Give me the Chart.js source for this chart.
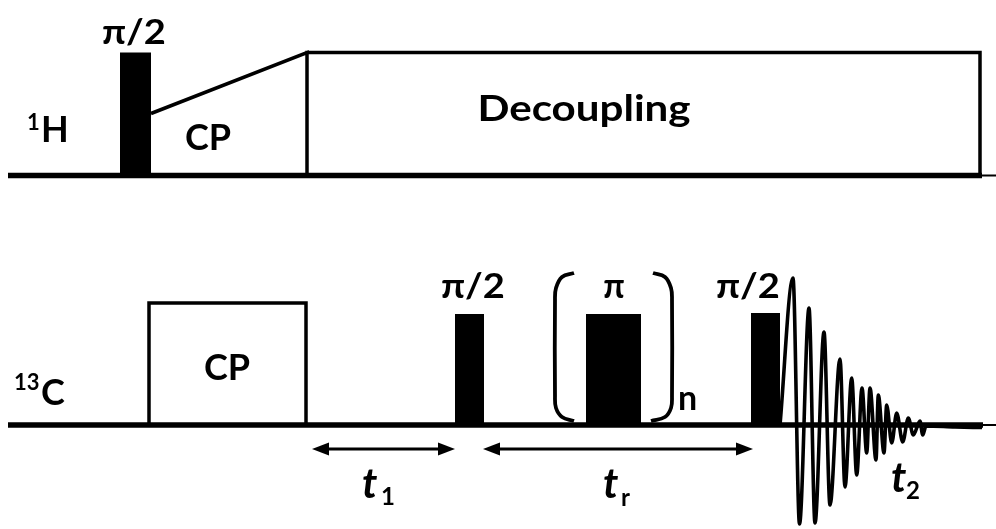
<!DOCTYPE html>
<html>
<head>
<meta charset="utf-8">
<script src="https://cdn.jsdelivr.net/npm/chart.js"></script>
<style>
  body { margin: 0; background: #fff; }
  canvas { display: block; background: #fff; }
</style>
</head>
<body>
<canvas id="seq" width="996" height="529"></canvas>
<script>
// pulse sequence, x = time (drawing units), y = level (drawing units, down is +)
const H_BASE = 175.5;
const C_BASE = 425;

// [start, end, height above baseline]
const hPulse = [120, 151, 123];
const hRamp = [[151, 62], [307, 123]];          // [x, height]
const hDecoupling = [307, 980, 123];
const cContact = [149, 306, 122];
const cPulses = [[455, 484, 111], [586, 641, 111], [751, 780, 112]];
const cPulseLabels = ['π/2', 'π', 'π/2'];
const cPulseLabelX = [473, 614, 748];

// FID (x, amplitude above baseline)
const fidX = [780, 793, 799.5, 809, 815, 824, 830, 840, 845, 851.7, 856.7, 862, 866.7, 870, 876, 878.3, 884, 886.7, 891.7, 896.7, 902.7, 908.3, 913.3, 920, 922.7, 926, 955, 982];
const fidY = [0, 147, -99, 117, -98, 93, -80, 66, -62, 47, -50, 37, -28, 37, -35, 30, -28, 20, -18, 12, -17, 7, -10, 4, -10, -1, -2, -2.5];

// rotor-sync loop bracket (x, y)
const bracketLX = [574, 562, 556, 555, 555, 556, 562, 574];
const bracketRX = [653, 665, 671, 672, 672, 671, 665, 651];
const bracketY = [273, 277, 288, 300, 396, 408, 417, 421];

// delays drawn as double arrows
const delays = [[312, 455], [483, 753]];
const DELAY_Y = 449;

const FONT = 'Lato, "Liberation Sans", sans-serif';

function line(pts, w, extra) {
  return Object.assign({
    data: pts, showLine: true, borderColor: '#000', borderWidth: w,
    pointRadius: 0, fill: false, tension: 0
  }, extra || {});
}
function block(x1, x2, base, h) {
  return {
    data: [{x: x1, y: base - h}, {x: x2, y: base - h}], showLine: true,
    borderColor: 'rgba(0,0,0,0)', borderWidth: 0, backgroundColor: '#000',
    fill: {value: base}, pointRadius: 0
  };
}
function head(tip, y, dir) {
  // two half triangles, filled to the shaft line
  const back = tip + dir * 17;
  return [
    {data: [{x: tip, y: y}, {x: back, y: y - 6.5}], showLine: true, borderWidth: 0,
     borderColor: 'rgba(0,0,0,0)', backgroundColor: '#000', fill: {value: y}, pointRadius: 0},
    {data: [{x: tip, y: y}, {x: back, y: y + 6.5}], showLine: true, borderWidth: 0,
     borderColor: 'rgba(0,0,0,0)', backgroundColor: '#000', fill: {value: y}, pointRadius: 0}
  ];
}

const datasets = [];
// baselines
datasets.push(line([{x: 8, y: H_BASE}, {x: 982, y: H_BASE}], 5.5));
datasets.push(line([{x: 982, y: H_BASE}, {x: 996, y: H_BASE}], 2));
datasets.push(line([{x: 8, y: C_BASE}, {x: 983, y: C_BASE}], 5.5));
datasets.push(line([{x: 983, y: C_BASE}, {x: 996, y: C_BASE}], 2));

// 1H channel
datasets.push(block(hPulse[0], hPulse[1], H_BASE, hPulse[2]));
datasets.push(line([
  {x: hRamp[0][0], y: H_BASE - hRamp[0][1]},
  {x: hRamp[1][0], y: H_BASE - hRamp[1][1]},
  {x: hDecoupling[0], y: H_BASE},
  {x: hDecoupling[0], y: H_BASE - hDecoupling[2]},
  {x: hDecoupling[1], y: H_BASE - hDecoupling[2]},
  {x: hDecoupling[1], y: H_BASE}
], 3.5));

// 13C channel
datasets.push(line([
  {x: cContact[0], y: C_BASE},
  {x: cContact[0], y: C_BASE - cContact[2]},
  {x: cContact[1], y: C_BASE - cContact[2]},
  {x: cContact[1], y: C_BASE}
], 3.5));
cPulses.forEach(p => datasets.push(block(p[0], p[1], C_BASE, p[2])));

datasets.push(line(bracketLX.map((x, i) => ({x: x, y: bracketY[i]})), 3.8, {tension: 0.4}));
datasets.push(line(bracketRX.map((x, i) => ({x: x, y: bracketY[i]})), 3.8, {tension: 0.4}));

datasets.push(line(fidX.map((x, i) => ({x: x, y: C_BASE - fidY[i]})), 3.6,
  {cubicInterpolationMode: 'monotone'}));

delays.forEach(d => {
  datasets.push(line([{x: d[0] + 10, y: DELAY_Y}, {x: d[1] - 10, y: DELAY_Y}], 3));
  head(d[0], DELAY_Y, 1).forEach(ds => datasets.push(ds));
  head(d[1], DELAY_Y, -1).forEach(ds => datasets.push(ds));
});

// text: [text, x, baseline y, size, italic, align, stretch]
const texts = [
  ['π/2', 134, 44, 34, false, 'center', 1.12],
  ['CP', 208, 150, 36, false, 'center', 1],
  ['Decoupling', 584, 121, 36, false, 'center', 1.17],
  ['1', 27, 130, 22, false, 'left', 1],
  ['H', 41, 142, 36, false, 'left', 1],
  ['CP', 227, 380, 36, false, 'center', 1],
  ['13', 14, 390, 22, false, 'left', 1],
  ['C', 41, 405, 36, false, 'left', 1],
  ['n', 678, 410, 34, false, 'left', 1],
  ['t', 362, 498, 42, true, 'left', 1],
  ['1', 381, 505, 24, false, 'left', 1],
  ['t', 603, 498, 42, true, 'left', 1],
  ['r', 621, 506, 24, false, 'left', 1],
  ['t', 891, 492, 42, true, 'left', 1],
  ['2', 906, 499, 24, false, 'left', 1]
];
cPulseLabels.forEach((t, i) => texts.push([t, cPulseLabelX[i], 298, 34, false, 'center', t === 'π' ? 1 : 1.12]));

const textPlugin = {
  id: 'seqText',
  afterDatasetsDraw(chart) {
    const ctx = chart.ctx;
    const sx = chart.scales.x, sy = chart.scales.y;
    ctx.fillStyle = '#000';
    ctx.textBaseline = 'alphabetic';
    texts.forEach(t => {
      ctx.save();
      ctx.font = (t[4] ? 'italic ' : '') + 'bold ' + t[3] + 'px ' + FONT;
      ctx.textAlign = t[5];
      ctx.translate(sx.getPixelForValue(t[1]), sy.getPixelForValue(t[2]));
      ctx.scale(t[6], 1);
      ctx.fillText(t[0], 0, 0);
      ctx.restore();
    });
  }
};

new Chart(document.getElementById('seq'), {
  type: 'scatter',
  data: {datasets: datasets},
  options: {
    responsive: false,
    devicePixelRatio: 1,
    animation: false,
    layout: {padding: 0},
    plugins: {legend: {display: false}, tooltip: {enabled: false}},
    scales: {
      x: {type: 'linear', min: 0, max: 996, display: false},
      y: {type: 'linear', min: 0, max: 529, reverse: true, display: false}
    }
  },
  plugins: [textPlugin]
});
</script>
</body>
</html>
